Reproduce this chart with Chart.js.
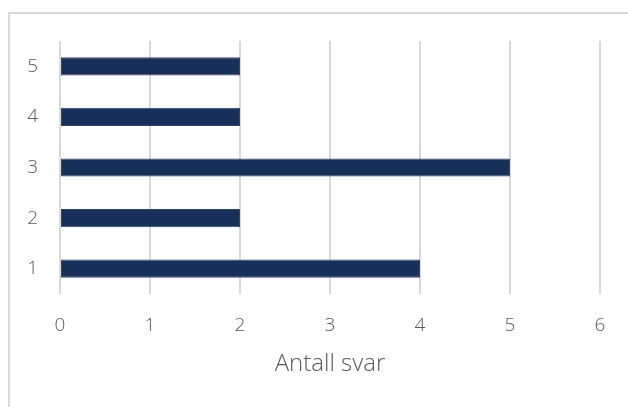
<!DOCTYPE html>
<html>
<head>
<meta charset="utf-8">
<script src="https://cdn.jsdelivr.net/npm/chart.js@4/dist/chart.umd.min.js"></script>
<style>
  html, body { margin: 0; padding: 0; background: #fff; overflow: hidden; }
  #wrap { position: relative; width: 628px; height: 407px; }
  #frame { position: absolute; left: 8px; top: 12px; width: 640px; height: 420px; border: 2px solid #d9d9d9; box-sizing: border-box; }
  #chart { position: absolute; left: 0; top: 0; }
</style>
</head>
<body>
<div id="wrap">
  <div id="frame"></div>
  <canvas id="chart" width="628" height="407"></canvas>
</div>
<script>
// answer options and how many picked each
const options = ['1', '2', '3', '4', '5'];
const answers = [4, 2, 5, 2, 2];
const axisTitle = 'Antall svar';

const textColor = '#595959';
const fontFamily = "'Open Sans', 'Liberation Sans', sans-serif";

new Chart(document.getElementById('chart'), {
    type: 'bar',
    data: {
        labels: options,
        datasets: [{
            data: answers,
            backgroundColor: '#182f5a',
            borderColor: '#2f4470',
            borderWidth: 1,
            borderSkipped: false,
            barPercentage: 0.36,
            categoryPercentage: 1
        }]
    },
    options: {
        indexAxis: 'y',
        responsive: false,
        animation: false,
        layout: { padding: { top: 41, right: 28, left: 0, bottom: 0 } },
        plugins: { legend: { display: false }, tooltip: { enabled: false } },
        scales: {
            x: {
                min: 0,
                max: 6,
                afterFit: (scale) => { scale.height = 113; },
                ticks: { stepSize: 1, padding: 20, color: textColor, font: { family: fontFamily, size: 19, weight: 300 } },
                grid: { color: '#d9d9d9', lineWidth: 2, drawTicks: false },
                border: { display: false },
                title: {
                    display: true,
                    text: axisTitle,
                    color: textColor,
                    padding: { top: 0, bottom: 28 },
                    font: { family: fontFamily, size: 24, weight: 300 }
                }
            },
            y: {
                reverse: true,
                afterFit: (scale) => { scale.width = 60; },
                ticks: { padding: 22, color: textColor, font: { family: fontFamily, size: 19, weight: 300 } },
                grid: { display: false, drawTicks: false },
                border: { display: false }
            }
        }
    }
});
</script>
</body>
</html>
